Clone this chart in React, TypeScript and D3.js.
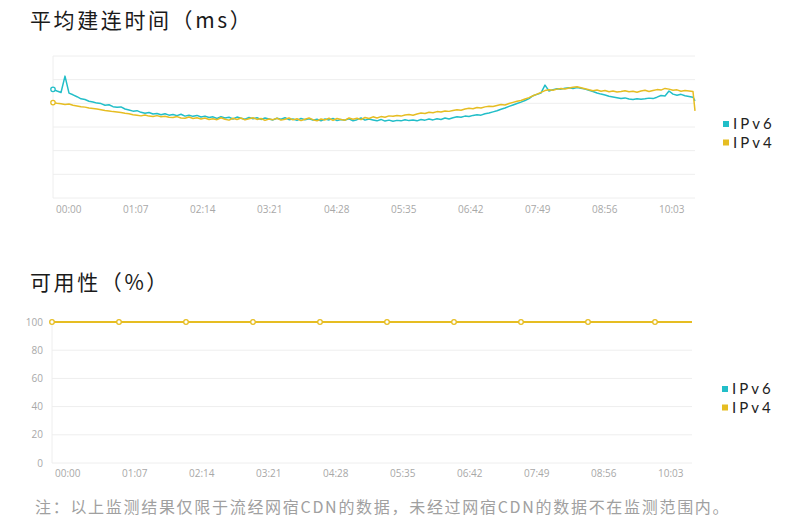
import * as d3 from 'd3';

const WIDTH = 800;
const HEIGHT = 526;

const C_V6 = '#22bec8';
const C_V4 = '#e6bd22';
const GRID = '#eeeeee';
const LABEL = '#a8a8a8';

// x axis ticks (minutes since 00:00)
const TICK_MINUTES = [0, 67, 134, 201, 268, 335, 402, 469, 536, 603];
const TICK_LABELS = ['00:00', '01:07', '02:14', '03:21', '04:28', '05:35', '06:42', '07:49', '08:56', '10:03'];

// 平均建连时间 samples every 4 minutes, plus last sample at 642
const LAT_MINUTES = d3.range(0, 641, 4).concat([642]);

const IPV6_LATENCY = [
  45.9, 45.2, 44.6, 51.5, 44.3, 43.6, 42.8, 41.9, 41.6, 40.9,
  40.6, 40.1, 39.9, 39.2, 39.4, 38.6, 38.3, 38.5, 37.6, 37.2,
  36.7, 36.9, 36.2, 35.8, 36.1, 35.5, 35.7, 35.2, 35.6, 35.0,
  35.3, 34.8, 35.4, 34.6, 35.0, 34.5, 34.9, 34.2, 34.6, 34.0,
  34.3, 33.6, 34.4, 33.8, 34.1, 33.4, 34.2, 33.7, 33.3, 34.0,
  33.5, 33.9, 33.2, 33.8, 33.4, 33.0, 33.7, 33.3, 33.9, 33.1,
  33.4, 32.8, 33.6, 33.1, 33.5, 32.9, 33.3, 32.6, 33.4, 33.0,
  33.6, 32.7, 33.2, 32.9, 33.5, 32.6, 33.1, 33.8, 32.9, 33.4,
  33.0, 32.6, 33.2, 32.5, 32.9, 32.4, 32.8, 32.6, 33.1, 32.7,
  33.0, 32.6, 33.2, 32.9, 33.4, 33.0, 33.5, 33.2, 33.8, 33.4,
  33.9, 34.3, 34.1, 34.6, 34.4, 34.9, 35.2, 35.0, 35.6, 35.9,
  36.4, 36.9, 37.5, 38.0, 38.7, 39.3, 39.9, 40.5, 41.2, 42.0,
  43.2, 43.8, 44.4, 47.7, 45.2, 45.8, 46.2, 46.0, 46.4, 46.6,
  46.3, 46.7, 46.4, 46.0, 45.5, 45.0, 44.4, 43.9, 43.5, 43.0,
  42.7, 42.4, 42.0, 42.3, 41.8, 41.6, 41.9, 41.7, 41.9, 42.2,
  42.0, 42.6, 43.3, 43.1, 45.2, 43.9, 43.4, 43.8, 43.2, 42.9,
  42.6, 41.0,
];

const IPV4_LATENCY = [
  40.3, 40.0, 39.8, 39.5, 39.7, 39.2, 38.9, 38.6, 38.4, 38.0,
  37.8, 37.6, 37.3, 37.0, 36.8, 36.5, 36.3, 36.1, 35.8, 35.6,
  35.2, 35.0, 34.7, 35.1, 34.6, 34.4, 34.8, 34.3, 34.5, 34.1,
  34.0, 34.4, 33.8, 33.7, 34.2, 33.6, 33.9, 33.4, 33.8, 33.2,
  33.5, 33.1, 33.9, 33.3, 32.9, 33.7, 33.2, 33.8, 33.0, 33.5,
  33.9, 33.2, 33.6, 32.8, 33.4, 33.1, 33.7, 32.9, 33.3, 33.8,
  33.0, 33.5, 32.7, 33.3, 33.8, 33.1, 32.6, 33.4, 33.0, 33.7,
  32.8, 33.6, 33.2, 32.9, 33.8, 33.3, 33.7, 33.1, 34.0, 33.6,
  34.3, 33.8, 34.4, 34.1, 34.7, 34.5, 34.9, 34.6, 35.1, 35.3,
  35.0, 35.5, 35.9, 35.7, 36.2, 36.0, 36.5, 36.3, 36.8, 36.6,
  37.0, 37.3, 37.1, 37.6, 37.9, 37.7, 38.2, 38.0, 38.5, 38.8,
  38.7, 39.1, 39.5, 39.3, 39.9, 40.4, 40.9, 41.2, 41.8, 42.4,
  43.2, 43.9, 44.6, 45.4, 45.7, 45.5, 46.0, 46.3, 46.1, 46.5,
  46.8, 47.0, 46.6, 46.2, 45.7, 45.3, 45.6, 45.1, 45.4, 44.9,
  45.2, 44.8, 45.0, 45.3, 44.9, 45.1, 44.7, 45.2, 45.5, 45.0,
  45.4, 45.8, 45.6, 46.3, 46.0, 45.5, 45.7, 45.1, 45.4, 45.2,
  45.0, 36.8,
];

// 可用性 (%)
const AVAIL_MINUTES = [0, 67, 134, 201, 268, 335, 402, 469, 536, 603, 640];
const IPV6_AVAIL = [100, 100, 100, 100, 100, 100, 100, 100, 100, 100, 100];
const IPV4_AVAIL = [100, 100, 100, 100, 100, 100, 100, 100, 100, 100, 100];
const AVAIL_TICKS = [0, 20, 40, 60, 80, 100];

const SERIES_NAMES = ['IPv6', 'IPv4'];
const SERIES_COLORS = [C_V6, C_V4];

const FONT = '"Noto Sans CJK SC", "Noto Sans", sans-serif';

type Pt = [number, number];

const Legend = ({ x, y, gap }: { x: number; y: number; gap: number }) => (
  <g>
    {SERIES_NAMES.map((name, i) => (
      <g key={name} transform={`translate(${x}, ${y + i * gap})`}>
        <rect x={-8} y={-3} width={6} height={6} fill={SERIES_COLORS[i]} />
        <text
          x={2}
          y={0}
          dy="0.36em"
          fontSize={15}
          letterSpacing={3}
          fill="#222"
          fontFamily='Lato, "Open Sans", sans-serif'
        >
          {name}
        </text>
      </g>
    ))}
  </g>
);

const LatencyChart = () => {
  const left = 53;
  const right = 695;
  const top = 56;
  const bottom = 198;

  const x = d3.scaleLinear().domain([0, 642]).range([left, right]);
  const y = d3.scaleLinear().domain([0, 60]).range([bottom, top]);
  const line = d3.line<Pt>().x(d => x(d[0])).y(d => y(d[1]));

  const v6: Pt[] = LAT_MINUTES.map((m, i) => [m, IPV6_LATENCY[i]]);
  const v4: Pt[] = LAT_MINUTES.map((m, i) => [m, IPV4_LATENCY[i]]);

  return (
    <g>
      {y.ticks(6).map(t => (
        <line key={t} x1={left} x2={right} y1={y(t)} y2={y(t)} stroke={GRID} strokeWidth={1} />
      ))}
      <line x1={left} x2={left} y1={top} y2={bottom} stroke={GRID} />
      {TICK_MINUTES.map((m, i) => (
        <text
          key={m}
          x={x(m) + 3}
          y={bottom + 15}
          fontSize={10}
          fill={LABEL}
          fontFamily='"Open Sans", sans-serif'
        >
          {TICK_LABELS[i]}
        </text>
      ))}
      <path d={line(v6) ?? ''} fill="none" stroke={C_V6} strokeWidth={1.5} strokeLinejoin="round" />
      <path d={line(v4) ?? ''} fill="none" stroke={C_V4} strokeWidth={1.5} strokeLinejoin="round" />
      <circle cx={x(v6[0][0])} cy={y(v6[0][1])} r={2.2} fill="#fff" stroke={C_V6} strokeWidth={1.3} />
      <circle cx={x(v4[0][0])} cy={y(v4[0][1])} r={2.2} fill="#fff" stroke={C_V4} strokeWidth={1.3} />
      <Legend x={731} y={124} gap={18.5} />
    </g>
  );
};

const AvailabilityChart = () => {
  const left = 52;
  const right = 692;
  const top = 322;
  const bottom = 463;

  const x = d3.scaleLinear().domain([0, 640]).range([left, right]);
  const y = d3.scaleLinear().domain([0, 100]).range([bottom, top]);
  const line = d3.line<Pt>().x(d => x(d[0])).y(d => y(d[1]));

  const v6: Pt[] = AVAIL_MINUTES.map((m, i) => [m, IPV6_AVAIL[i]]);
  const v4: Pt[] = AVAIL_MINUTES.map((m, i) => [m, IPV4_AVAIL[i]]);

  return (
    <g>
      {AVAIL_TICKS.map(t => (
        <g key={t}>
          <line x1={left} x2={right} y1={y(t)} y2={y(t)} stroke={GRID} strokeWidth={1} />
          <text
            x={43}
            y={y(t)}
            dy="0.35em"
            textAnchor="end"
            fontSize={10}
            fill={LABEL}
            fontFamily='"Open Sans", sans-serif'
          >
            {t}
          </text>
        </g>
      ))}
      <line x1={left} x2={left} y1={top} y2={bottom} stroke={GRID} />
      {TICK_MINUTES.map((m, i) => (
        <text
          key={m}
          x={x(m) + 3}
          y={bottom + 14}
          fontSize={10}
          fill={LABEL}
          fontFamily='"Open Sans", sans-serif'
        >
          {TICK_LABELS[i]}
        </text>
      ))}
      <path d={line(v6) ?? ''} fill="none" stroke={C_V6} strokeWidth={1.8} />
      <path d={line(v4) ?? ''} fill="none" stroke={C_V4} strokeWidth={1.8} />
      {v4.slice(0, -1).map((d, i) => (
        <circle key={i} cx={x(d[0])} cy={y(d[1])} r={2.3} fill="#fff" stroke={C_V4} strokeWidth={1.3} />
      ))}
      <Legend x={730} y={389} gap={18.5} />
    </g>
  );
};

export default function App() {
  return (
    <svg
      width={WIDTH}
      height={HEIGHT}
      style={{ position: 'absolute', left: 0, top: 0, background: '#fff' }}
    >
      <rect width={WIDTH} height={HEIGHT} fill="#fff" />
      <text x={30} y={28} fontSize={21} letterSpacing={2.6} fill="#1a1a1a" fontFamily={FONT}>
        平均建连时间（ms）
      </text>
      <LatencyChart />
      <text x={30} y={290} fontSize={21} letterSpacing={2.6} fill="#1a1a1a" fontFamily={FONT}>
        可用性（%）
      </text>
      <AvailabilityChart />
      <text x={35} y={513} fontSize={16} letterSpacing={1.7} fill="#a0a0a0" fontFamily={FONT}>
        注：以上监测结果仅限于流经网宿CDN的数据，未经过网宿CDN的数据不在监测范围内。
      </text>
    </svg>
  );
}
